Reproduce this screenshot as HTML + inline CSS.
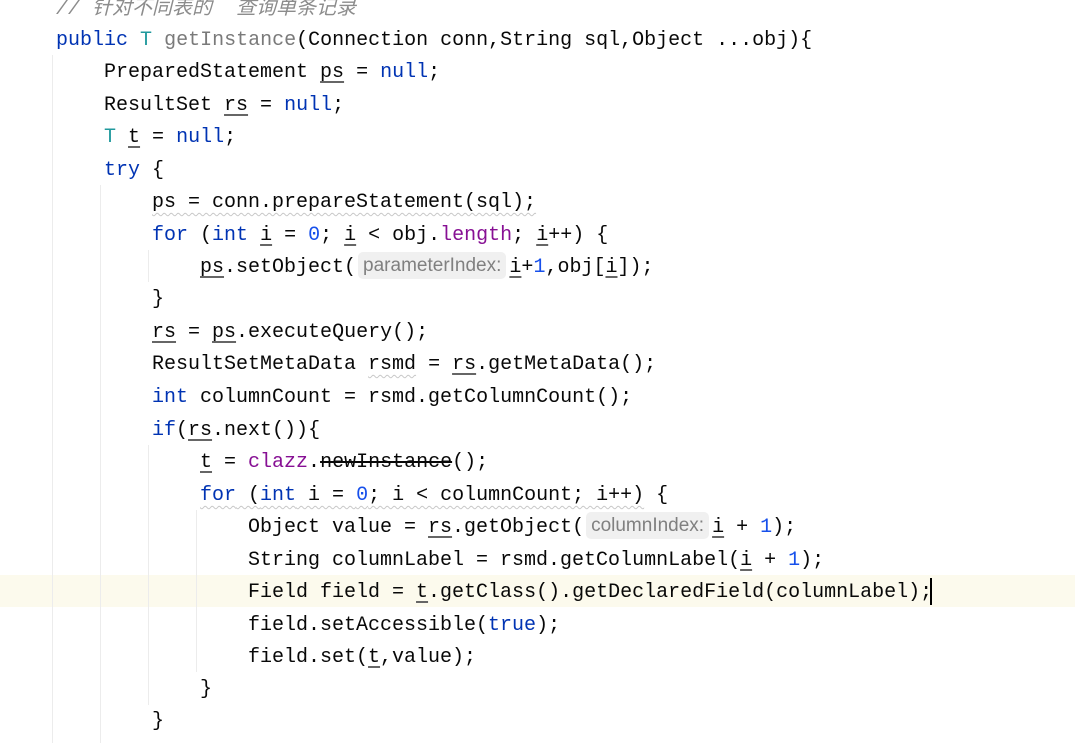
<!DOCTYPE html>
<html><head><meta charset="utf-8"><style>
html,body{margin:0;padding:0;}
body{width:1075px;height:743px;background:#fff;position:relative;overflow:hidden;font-family:"Liberation Mono","DejaVu Sans Mono",monospace;font-size:20px;color:#080808;}
.l{position:absolute;left:0;height:32px;line-height:32px;white-space:pre;margin-top:2px}
.k{color:#0033b3}.n{color:#1750eb}.p{color:#871094}.t{color:#20999d}.g{color:#7a7a7a}
.c{color:#8c8c8c;font-style:italic;font-family:"Liberation Mono","Noto Sans CJK SC",monospace}
.u{text-decoration:underline;text-decoration-color:#666;text-underline-offset:4px}
.s{text-decoration:line-through}
.h{display:inline-block;background:#f0f0f0;color:#808080;font-family:"Liberation Sans",sans-serif;font-size:19px;line-height:27px;padding:0 5px;border-radius:5px;margin:0 3px 0 2px;vertical-align:1px}
.w{text-decoration:underline wavy #c8c8c8;text-underline-offset:5px;text-decoration-thickness:1px}
.gd{position:absolute;width:1px;background:#ececec}
</style></head><body>
<div style="position:absolute;left:0;top:575px;width:1075px;height:32px;background:#fcfaed"></div>
<div class="gd" style="left:52px;top:55px;height:688px"></div>
<div class="gd" style="left:100px;top:185px;height:558px"></div>
<div class="gd" style="left:148px;top:250px;height:32px"></div>
<div class="gd" style="left:148px;top:445px;height:260px"></div>
<div class="gd" style="left:196px;top:510px;height:162px"></div>
<div class="l" style="top:-8px;left:56px"><span class="c">// 针对不同表的  查询单条记录</span></div>
<div class="l" style="top:23px;left:56px"><span class="k">public</span> <span class="t">T</span> <span class="g">getInstance</span>(Connection conn,String sql,Object ...obj){</div>
<div class="l" style="top:55px;left:104px">PreparedStatement <span class="u">ps</span> = <span class="k">null</span>;</div>
<div class="l" style="top:88px;left:104px">ResultSet <span class="u">rs</span> = <span class="k">null</span>;</div>
<div class="l" style="top:120px;left:104px"><span class="t">T</span> <span class="u">t</span> = <span class="k">null</span>;</div>
<div class="l" style="top:153px;left:104px"><span class="k">try</span> {</div>
<div class="l" style="top:185px;left:152px"><span class="w">ps = conn.prepareStatement(sql);</span></div>
<div class="l" style="top:218px;left:152px"><span class="k">for</span> (<span class="k">int</span> <span class="u">i</span> = <span class="n">0</span>; <span class="u">i</span> &lt; obj.<span class="p">length</span>; <span class="u">i</span>++) {</div>
<div class="l" style="top:250px;left:200px"><span class="u">ps</span>.setObject(<span class="h">parameterIndex:</span><span class="u">i</span>+<span class="n">1</span>,obj[<span class="u">i</span>]);</div>
<div class="l" style="top:282px;left:152px">}</div>
<div class="l" style="top:315px;left:152px"><span class="u">rs</span> = <span class="u">ps</span>.executeQuery();</div>
<div class="l" style="top:347px;left:152px">ResultSetMetaData <span class="w">rsmd</span> = <span class="u">rs</span>.getMetaData();</div>
<div class="l" style="top:380px;left:152px"><span class="k">int</span> columnCount = rsmd.getColumnCount();</div>
<div class="l" style="top:413px;left:152px"><span class="k">if</span>(<span class="u">rs</span>.next()){</div>
<div class="l" style="top:445px;left:200px"><span class="u">t</span> = <span class="p">clazz</span>.<span class="s">newInstance</span>();</div>
<div class="l" style="top:478px;left:200px"><span class="w"><span class="k">for</span> (<span class="k">int</span> i = <span class="n">0</span>; i &lt; columnCount; i++)</span> {</div>
<div class="l" style="top:510px;left:248px">Object value = <span class="u">rs</span>.getObject(<span class="h">columnIndex:</span><span class="u">i</span> + <span class="n">1</span>);</div>
<div class="l" style="top:543px;left:248px">String columnLabel = rsmd.getColumnLabel(<span class="u">i</span> + <span class="n">1</span>);</div>
<div class="l" style="top:575px;left:248px">Field field = <span class="u">t</span>.getClass().getDeclaredField(columnLabel);</div>
<div style="position:absolute;left:930px;top:578px;width:2px;height:27px;background:#000"></div>
<div class="l" style="top:608px;left:248px">field.setAccessible(<span class="k">true</span>);</div>
<div class="l" style="top:640px;left:248px">field.set(<span class="u">t</span>,value);</div>
<div class="l" style="top:672px;left:200px">}</div>
<div class="l" style="top:704px;left:152px">}</div>
</body></html>
